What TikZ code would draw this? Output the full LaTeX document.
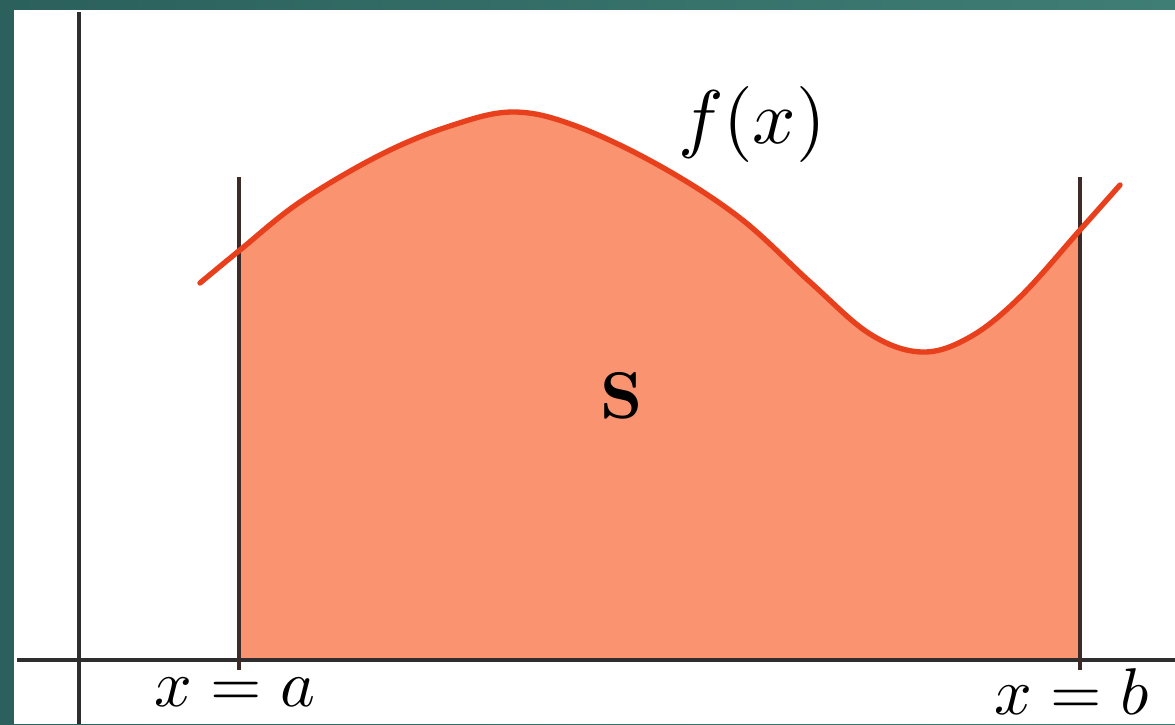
\documentclass[tikz,border=0pt]{standalone}
\usepackage{tikz}
\usetikzlibrary{positioning, calc}
\usepackage{xcolor}
\definecolor{FrameDark}{HTML}{2B605C}
\definecolor{FrameLight}{HTML}{3F7E75}
\definecolor{Axis}{HTML}{2E2E2E}
\definecolor{Bound}{HTML}{3C2B28}
\definecolor{Curve}{HTML}{E8401C}
\definecolor{Area}{HTML}{F99370}

\begin{document}
\begin{tikzpicture}[
            x=0.025cm, y=-0.025cm,
            axis/.style={draw=Axis, line width=2.3pt},
            bound/.style={draw=Bound, line width=2.8pt},
            graph/.style={draw=Curve, line width=3.8pt, line cap=round},
            lbl/.style={inner sep=0pt, scale=4.7, text=black}
        ]
            \useasboundingbox (0,0) rectangle (1175,724);
            \shade[left color=FrameDark, right color=FrameLight] (0,0) rectangle (1175,724);
            \fill[white] (14,10) rectangle (1175,724);

            % area under the curve between x=a and x=b
            \begin{scope}
                \clip (239,0) rectangle (1080,660);
                \fill[Area] (200,283) plot[smooth, tension=0.6] coordinates {(240,250) (300,202) (380,155) (450,126) (513,112) (576,126) (660,166) (740,218) (810,282) (870,334) (922,352) (970,337) (1020,297) (1080,230) (1120,185)} -- (1120,660) -- (200,660) -- cycle;
            \end{scope}

            % axes
            \coordinate (xl) at (17,660);
            \coordinate (xr) at (1175,660);
            \coordinate (yt) at (79,12);
            \coordinate (yb) at (79,724);
            \draw[axis] (xl) -- (xr);
            \draw[axis] (yt) -- (yb);

            % bounds
            \coordinate (atop) at (239,177);
            \coordinate (abot) at (239,670);
            \coordinate (btop) at (1080,177);
            \coordinate (bbot) at (1080,670);
            \draw[bound] (atop) -- (abot);
            \draw[bound] (btop) -- (bbot);

            % f(x)
            \draw[graph] plot[smooth, tension=0.6] coordinates {(200,283) (240,250) (300,202) (380,155) (450,126) (513,112) (576,126) (660,166) (740,218) (810,282) (870,334) (922,352) (970,337) (1020,297) (1080,230) (1120,185)};

            \node[lbl, scale=1.15] (fx) at (752,124) {$f(x)$};
            \node[lbl] (area) at (622,396) {\textbf{S}};
            \node[lbl] (xa) at (235,692) {$x=a$};
            \node[lbl, anchor=east] (xb) at (1150,692) {$x=b$};
        \end{tikzpicture}
\end{document}
